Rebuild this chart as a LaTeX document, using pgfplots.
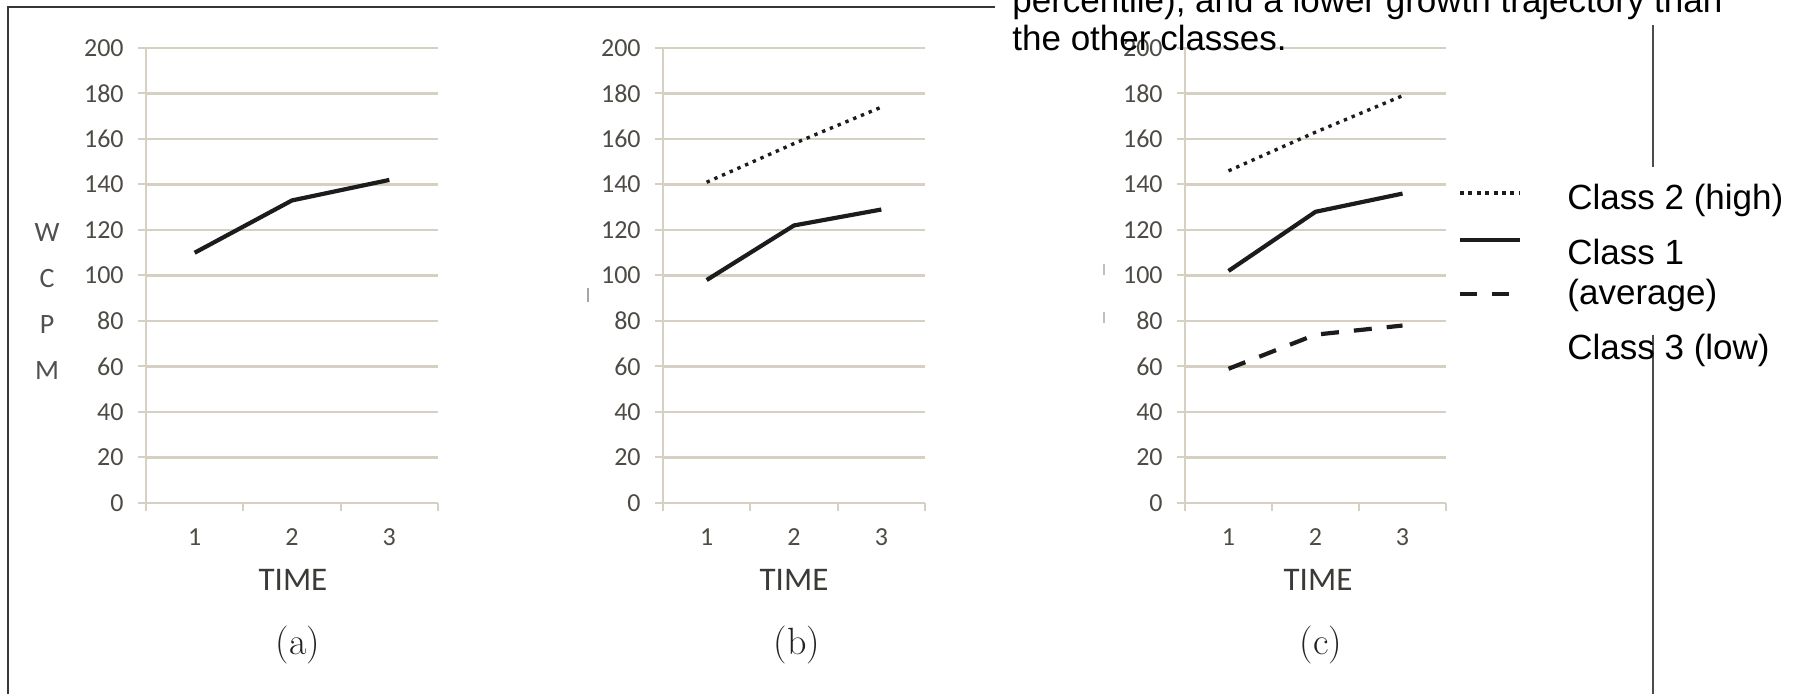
\documentclass[border=0pt]{standalone}
\usepackage{pgfplots}
\pgfplotsset{compat=1.18}
\usepackage{fontspec}
\newfontfamily\arialf{Liberation Sans}
\newfontfamily\carlito{Carlito}
\definecolor{gridc}{RGB}{214,208,195}
\definecolor{tickc}{RGB}{78,75,70}
\definecolor{linec}{RGB}{28,28,28}
\definecolor{framec}{RGB}{55,55,55}
\newcommand\tickfont{\carlito\fontsize{13pt}{15pt}\selectfont}
\newcommand\txtfont{\arialf\fontsize{17.5pt}{21pt}\selectfont}
\newcommand\timefont{\carlito\fontsize{16.5pt}{18pt}\selectfont}
\newcommand\capfont{\rmfamily\fontsize{19pt}{22pt}\selectfont}

\pgfplotsset{
  panel/.style={
    scale only axis, anchor=south west, height=227.5pt,
    xmin=0.5, xmax=3.5, ymin=0, ymax=200,
    axis lines*=left,
    axis line style={draw=gridc, line width=1pt},
    ytick={0,20,...,200},
    ymajorgrids, grid style={draw=gridc, line width=1.2pt},
    xtick={0.5,1.5,2.5,3.5}, xticklabels={\mbox{},\mbox{},\mbox{},\mbox{}},
    extra x ticks={1,2,3}, extra x tick labels={1,2,3},
    extra x tick style={major tick length=0pt, xticklabel style={yshift=-12.5pt}},
    tick align=outside,
    major tick length=4pt,
    tick style={draw=gridc, line width=1pt},
    ticklabel style={font=\tickfont, text=tickc, inner sep=0pt},
    yticklabel style={xshift=-7pt},
    /pgf/number format/assume math mode=true,
    clip=false,
  },
  solidline/.style={linec, line width=2.1pt, no marks},
  dotline/.style={linec, line width=1.7pt, dash pattern=on 1.7pt off 2.5pt, no marks},
  dashline/.style={linec, line width=2.1pt, dash pattern=on 9pt off 7.5pt, no marks},
}

\begin{document}
\begin{tikzpicture}
\path[use as bounding box] (0pt,0pt) rectangle (903.5pt,-347pt);
\begin{scope}
\clip (0pt,0pt) rectangle (903.5pt,-347pt);

% panel (a)
\begin{axis}[panel, at={(73pt,-251.5pt)}, width=146pt]
\addplot[solidline] coordinates {(1,110) (2,133) (3,142)};
\end{axis}

% panel (b)
\begin{axis}[panel, at={(331.5pt,-251.5pt)}, width=131pt]
\addplot[dotline] coordinates {(1,141) (2,158) (3,174)};
\addplot[solidline] coordinates {(1,98) (2,122) (3,129)};
\end{axis}

% panel (c)
\begin{axis}[panel, at={(592.5pt,-251.5pt)}, width=130.5pt]
\addplot[dotline] coordinates {(1,146) (2,163) (3,179)};
\addplot[solidline] coordinates {(1,102) (2,128) (3,136)};
\addplot[dashline] coordinates {(1,59) (2,74) (3,78)};
\end{axis}

\begin{scope}[x=0.5pt, y=-0.5pt]
% frame
\draw[framec, line width=1.2pt] (8,700) -- (8,7) -- (995,7);
\draw[framec!90, line width=1pt] (1653,25) -- (1653,167);
\draw[framec!90, line width=1pt] (1653,335) -- (1653,700);

% y label letters
\foreach \l/\yy in {W/233, C/279, P/325, M/371}
  \node[font=\carlito\fontsize{14pt}{16pt}\selectfont, text={rgb,255:red,80;green,80;blue,80}, inner sep=0pt] at (47,\yy) {\l};

% faint fragments
\draw[gray!70, line width=0.8pt] (588,288) -- (588,302);
\draw[gray!50, line width=0.8pt] (1104,264) -- (1104,275);
\draw[gray!50, line width=0.8pt] (1104,312) -- (1104,323);

% axis titles
\foreach \xx in {293,794,1318}
  \node[font=\timefont, text={rgb,255:red,60;green,58;blue,54}, inner sep=0pt] at (\xx,580) {TIME};
\node[font=\capfont, text={rgb,255:red,35;green,35;blue,35}, inner sep=0pt] at (298,645) {(a)};
\node[font=\capfont, text={rgb,255:red,35;green,35;blue,35}, inner sep=0pt] at (797,645) {(b)};
\node[font=\capfont, text={rgb,255:red,35;green,35;blue,35}, inner sep=0pt] at (1321,645) {(c)};

% overlapping text
\node[font=\txtfont, anchor=base west, inner sep=0pt] at (1012,13) {percentile), and a lower growth trajectory than};
\node[font=\txtfont, anchor=base west, inner sep=0pt] at (1012,51) {the other classes.};

% legend
\draw[linec, line width=2pt, dash pattern=on 2pt off 2.2pt] (1460,193) -- (1520,193);
\draw[linec, line width=2pt] (1460,240) -- (1520,240);
\draw[linec, line width=2pt, dash pattern=on 8.5pt off 7.5pt] (1460,294) -- (1510,294);
\node[font=\txtfont, anchor=base west, inner sep=0pt] at (1567,210) {Class 2 (high)};
\node[font=\txtfont, anchor=base west, inner sep=0pt] at (1567,265) {Class 1};
\node[font=\txtfont, anchor=base west, inner sep=0pt] at (1567,305) {(average)};
\node[font=\txtfont, anchor=base west, inner sep=0pt] at (1567,360) {Class 3 (low)};
\end{scope}
\end{scope}
\end{tikzpicture}
\end{document}
